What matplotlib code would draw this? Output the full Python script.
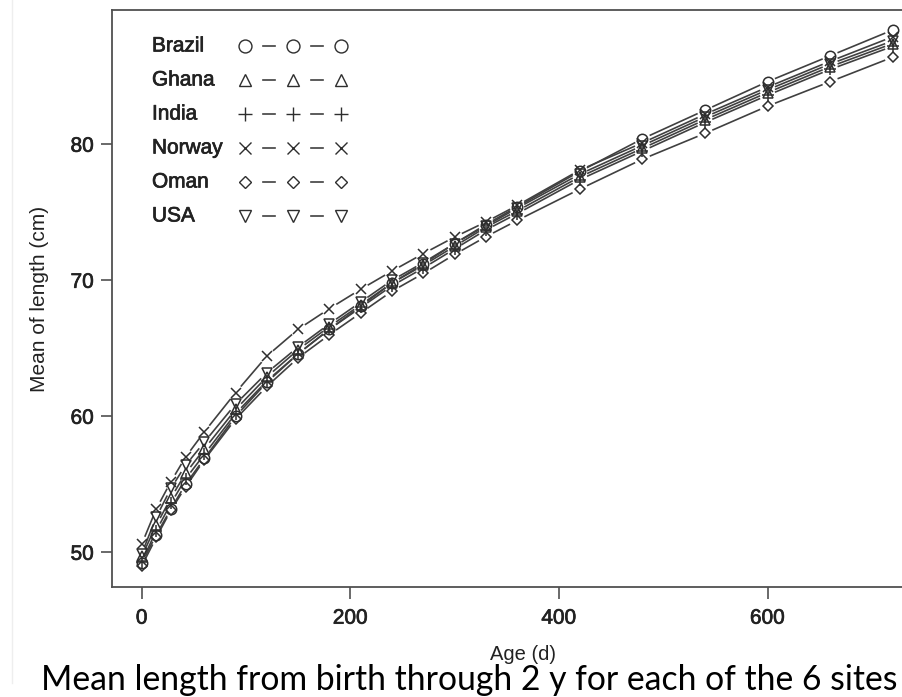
import matplotlib
matplotlib.use('Agg')
import matplotlib.pyplot as plt
import numpy as np
from matplotlib.collections import LineCollection
from matplotlib.lines import Line2D
import matplotlib.patheffects as pe

# ---- data ----
age = [0, 14, 28, 42, 60, 90, 120, 150, 180, 210, 240, 270, 300, 330, 360,
       420, 480, 540, 600, 660, 720]
sites = ['Brazil', 'Ghana', 'India', 'Norway', 'Oman', 'USA']
brazil = [49.2, 51.3, 53.2, 55.0, 56.9, 60.0, 62.5, 64.6, 66.4, 68.1, 69.8,
          71.2, 72.7, 74.1, 75.4, 78.0, 80.4, 82.5, 84.6, 86.5, 88.4]
ghana = [49.7, 52.0, 54.0, 55.8, 57.6, 60.5, 62.9, 64.9, 66.6, 68.2, 69.8,
         71.1, 72.5, 73.9, 75.1, 77.6, 79.7, 81.8, 83.8, 85.7, 87.4]
india = [49.3, 51.6, 53.6, 55.4, 57.2, 60.2, 62.6, 64.6, 66.4, 68.0, 69.6,
         70.9, 72.3, 73.7, 74.9, 77.4, 79.5, 81.6, 83.6, 85.5, 87.2]
norway = [50.6, 53.2, 55.2, 57.0, 58.85, 61.74, 64.43, 66.40, 67.92, 69.34,
          70.68, 71.96, 73.18, 74.29, 75.5, 78.1, 80.1, 82.2, 84.2, 86.1, 87.9]
oman = [49.0, 51.1, 53.1, 54.8, 56.8, 59.8, 62.2, 64.3, 66.0, 67.6, 69.2,
        70.5, 71.9, 73.2, 74.4, 76.7, 78.9, 80.8, 82.8, 84.6, 86.4]
usa = [49.9, 52.6, 54.7, 56.4, 58.1, 60.9, 63.2, 65.1, 66.8, 68.4, 70.0,
       71.3, 72.7, 74.0, 75.3, 77.8, 79.9, 82.0, 84.0, 85.9, 87.6]
series = [brazil, ghana, india, norway, oman, usa]
xticks = [0, 200, 400, 600]
yticks = [50, 60, 70, 80]
caption = 'Mean length from birth through 2 y for each of the 6 sites'

# ---- styles ----
markers = ['o', '^', '+', 'x', 'D', 'v']
msize_plot = [7.5, 7.5, 8.0, 7.5, 5.4, 7.5]
msize_leg = [9.3, 9.3, 9.8, 9.3, 6.6, 9.3]
LINEC = '#404040'
MARKC = '#2e2e2e'
AXC = '#505050'
TXTC = '#222222'
bold_fx = [pe.withStroke(linewidth=0.5, foreground=TXTC)]

W, H = 902, 697
fig = plt.figure(figsize=(W / 100, H / 100), dpi=100)
AX_L, AX_T, AX_W, AX_H = 111.7, 10.0, 811.0, 577.0
ax = fig.add_axes([AX_L / W, (H - AX_T - AX_H) / H, AX_W / W, AX_H / H])
ax.set_xlim(-28.8, 748.8)
ax.set_ylim(47.45, 89.87)


def gapped(ax, x, y, gap_px, **kw):
    pts = ax.transData.transform(np.column_stack([x, y]))
    inv = ax.transData.inverted()
    segs = []
    for p, q in zip(pts[:-1], pts[1:]):
        d = q - p
        L = np.hypot(*d)
        if L <= 2 * gap_px:
            continue
        u = d / L
        segs.append(inv.transform(np.array([p + u * gap_px, q - u * gap_px])))
    lc = LineCollection(segs, **kw)
    ax.add_collection(lc)


for vals, mk, ms in zip(series, markers, msize_plot):
    gapped(ax, age, vals, 8.0, colors=LINEC, linewidths=1.2, zorder=2)
    ax.plot(age, vals, linestyle='none', marker=mk, markersize=ms,
            markerfacecolor='none', markeredgecolor=MARKC,
            markeredgewidth=1.1, zorder=3)

# axes styling
for s in ax.spines.values():
    s.set_color(AXC)
    s.set_linewidth(1.3)
ax.set_xticks(xticks)
ax.set_yticks(yticks)
ax.tick_params(axis='x', length=8.6, width=1.2, color=AXC, labelsize=15,
               labelcolor=TXTC, pad=7)
ax.tick_params(axis='y', length=8.0, width=1.2, color=AXC, labelsize=15,
               labelcolor=TXTC, pad=4.8)
for lab in ax.get_xticklabels() + ax.get_yticklabels():
    lab.set_family('Liberation Sans')
    lab.set_path_effects(bold_fx)

# legend drawn manually (no box)
def fx(px):
    return (px - AX_L) / AX_W


def fy(py):
    return (AX_T + AX_H - py) / AX_H


for i, (name, mk, ms) in enumerate(zip(sites, markers, msize_leg)):
    yy = 46 + i * 34.0
    ax.text(fx(152), fy(yy), name, transform=ax.transAxes, fontsize=15,
            family='Liberation Sans', color=TXTC, ha='left', va='center',
            path_effects=bold_fx)
    ax.plot([fx(245), fx(293), fx(341)], [fy(yy)] * 3, transform=ax.transAxes,
            linestyle='none', marker=mk, markersize=ms, markerfacecolor='none',
            markeredgecolor=MARKC, markeredgewidth=1.0, clip_on=False)
    for cx in (269, 317):
        ax.plot([fx(cx - 6), fx(cx + 6)], [fy(yy)] * 2, transform=ax.transAxes,
                color=LINEC, lw=1.2, clip_on=False)

# axis labels
fig.text(523 / W, 1 - 655 / H, 'Age (d)', fontsize=14.5, family='Liberation Sans',
         color=TXTC, ha='center', va='center')
fig.text(40 / W, 1 - 299 / H, 'Mean of length (cm)', fontsize=15,
         family='Liberation Sans', color=TXTC, ha='center', va='center',
         rotation=90)

# caption, fitted to the reference width
cap = fig.text(469 / W, 1 - 690 / H, caption, fontsize=24,
               family=['Lato', 'DejaVu Sans'],
               color='black', ha='center', va='baseline')
r = fig.canvas.get_renderer()
w = cap.get_window_extent(r).width
cap.set_fontsize(24 * 858 / w)

fig.add_artist(Line2D([12 / W, 12 / W], [0.02, 1], color='#eeeeee', lw=1))

fig.savefig('out.png', dpi=100)
